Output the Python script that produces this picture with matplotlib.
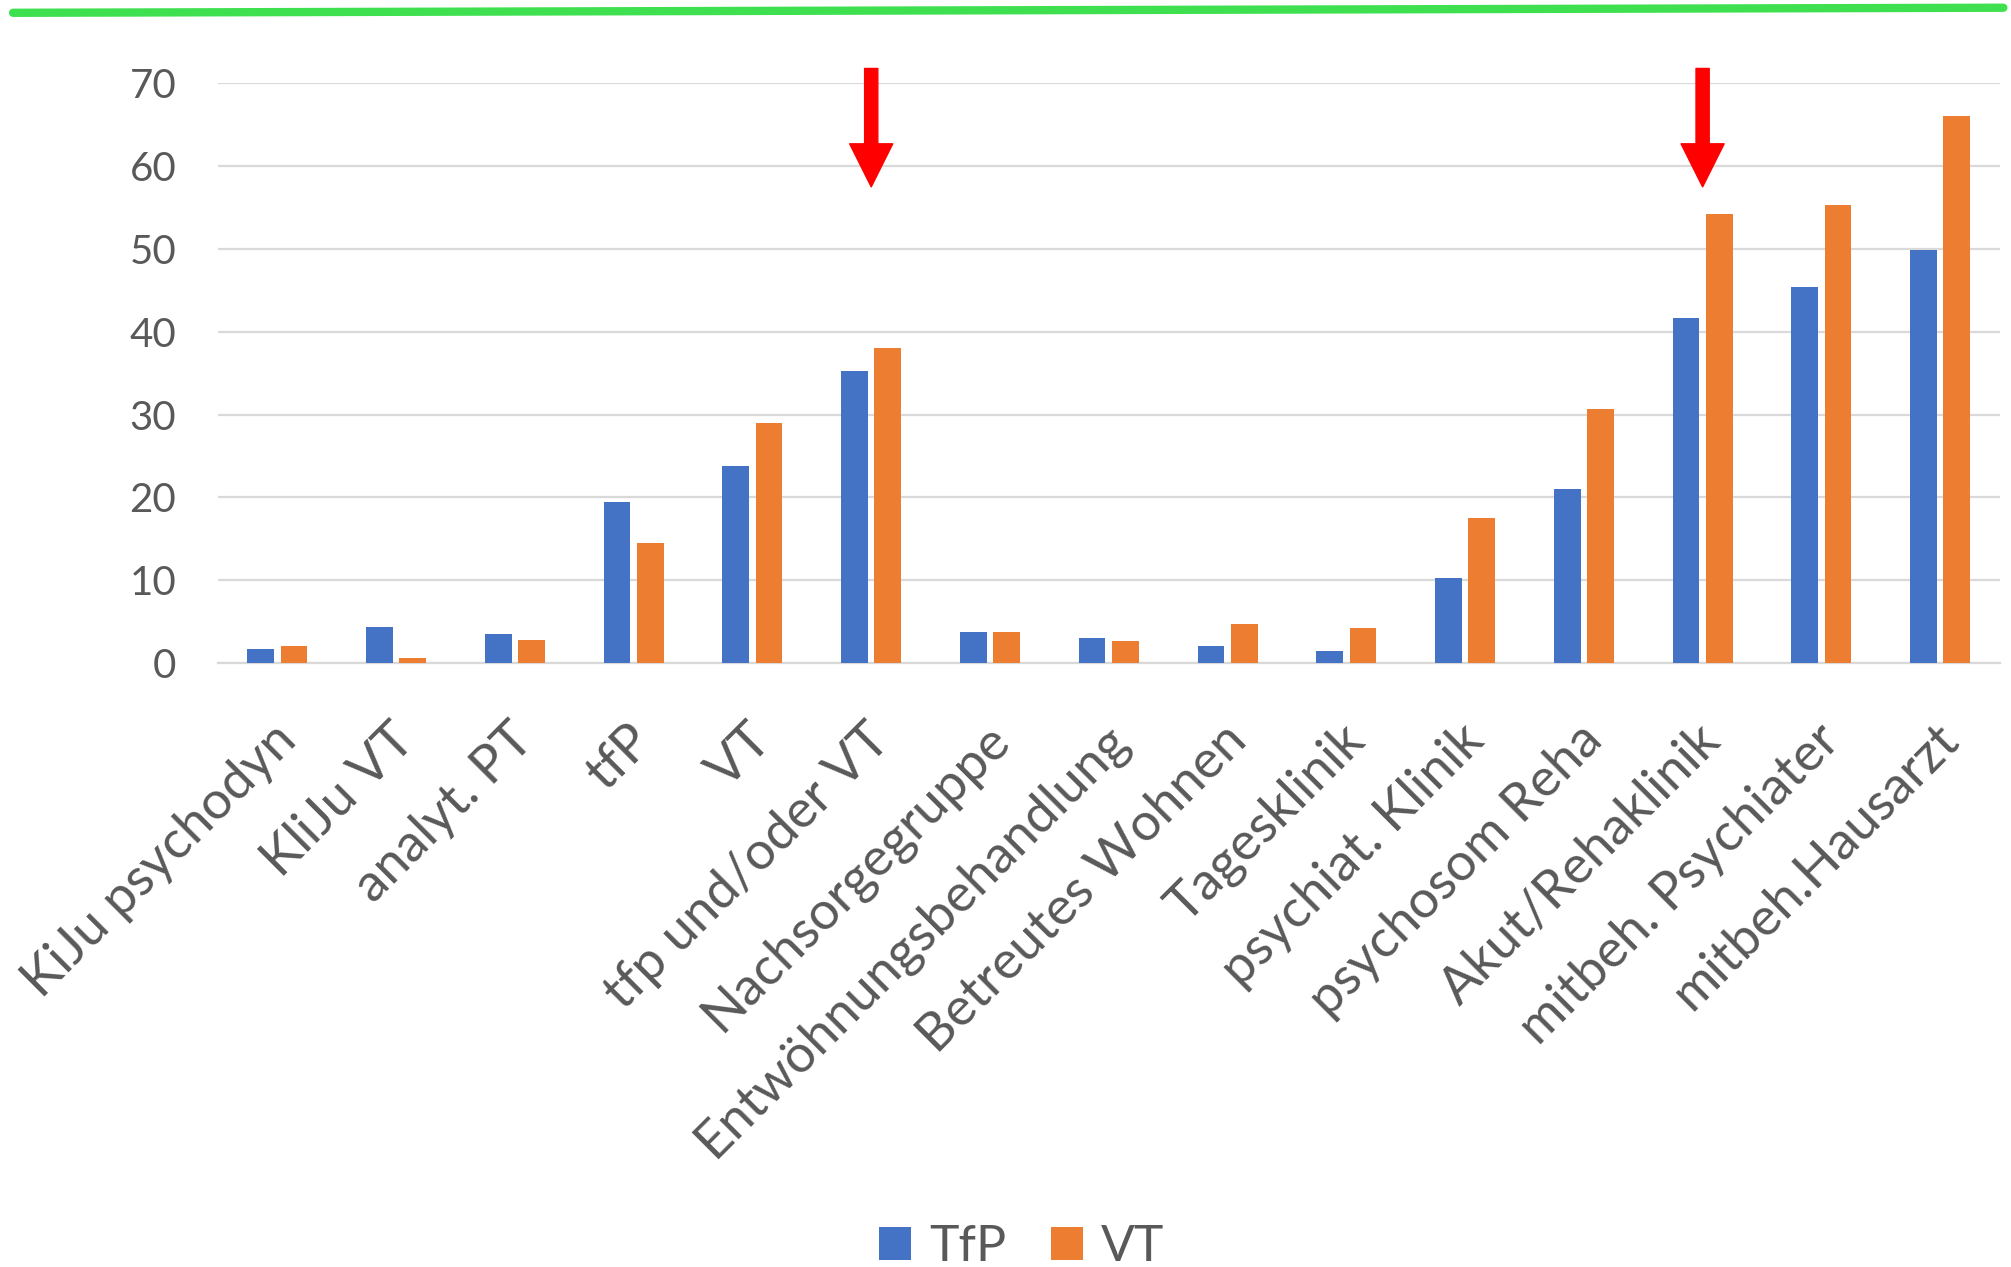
import matplotlib.pyplot as plt
import numpy as np
from matplotlib.lines import Line2D
from matplotlib.transforms import ScaledTranslation

plt.rcParams['font.family'] = ['Lato', 'DejaVu Sans']

categories = ["KiJu psychodyn", "KliJu VT", "analyt. PT", "tfP", "VT",
              "tfp und/oder VT", "Nachsorgegruppe", "Entwöhnungsbehandlung",
              "Betreutes Wohnen", "Tagesklinik", "psychiat. Klinik",
              "psychosom Reha", "Akut/Rehaklinik", "mitbeh. Psychiater",
              "mitbeh.Hausarzt"]
tfp_values = [1.7, 4.3, 3.5, 19.4, 23.8, 35.3, 3.7, 3.0, 2.1, 1.4, 10.3, 21.0, 41.7, 45.4, 49.9]
vt_values = [2.1, 0.6, 2.8, 14.5, 29.0, 38.0, 3.7, 2.6, 4.7, 4.2, 17.5, 30.7, 54.2, 55.3, 66.0]
yticks = [0, 10, 20, 30, 40, 50, 60, 70]
arrow_at = ["tfp und/oder VT", "Akut/Rehaklinik"]

grey = "#595959"
blue = "#4472C4"
orange = "#ED7D31"

fig = plt.figure(figsize=(20.11, 12.67), dpi=100)
ax = fig.add_axes([0.1084, 0.4767, 0.8859, 0.4575])

x = np.arange(len(categories))
w = 0.225
ax.bar(x - 0.14, tfp_values, w, color=blue, label="TfP", zorder=3)
ax.bar(x + 0.14, vt_values, w, color=orange, label="VT", zorder=3)

ax.set_xlim(-0.5, len(categories) - 0.5)
ax.set_ylim(0, 70)
ax.set_yticks(yticks)
ax.yaxis.grid(True, color="#D9D9D9", linewidth=1.6, zorder=0)
ax.set_axisbelow(True)
for s in ["top", "right", "left"]:
    ax.spines[s].set_visible(False)
ax.spines["bottom"].set_color("#D9D9D9")
ax.spines["bottom"].set_linewidth(1.6)

ax.tick_params(axis="y", length=0, pad=30, labelsize=29, labelcolor=grey)
ax.tick_params(axis="x", length=0, pad=50, labelsize=38, labelcolor=grey)
ax.set_xticks(x)
ax.set_xticklabels(categories, rotation=45, ha="right", va="center",
                   rotation_mode="anchor")
# nudge the rotated labels a little to the right
nudge = ScaledTranslation(11 / 100, 0, fig.dpi_scale_trans)
for lab in ax.get_xticklabels():
    lab.set_transform(lab.get_transform() + nudge)

# red arrows pointing down on the highlighted groups
for name in arrow_at:
    i = categories.index(name)
    ax.annotate("", xy=(i, 57.5), xytext=(i, 71.8), annotation_clip=False,
                arrowprops=dict(width=9.5, headwidth=31, headlength=31,
                                color="#FF0000", shrink=0))

leg = fig.legend(loc="center", bbox_to_anchor=(0.508, 0.0155), ncol=2,
                 frameon=False, fontsize=36, handlelength=0.65,
                 handleheight=0.65, handletextpad=0.35, columnspacing=0.9,
                 labelcolor=grey)

# green line along the top
fig.add_artist(Line2D([0.0065, 0.9962], [0.9899, 0.9939], color="#3EE050",
                      linewidth=6, solid_capstyle="round",
                      transform=fig.transFigure))

fig.savefig("out.png", dpi=100)
